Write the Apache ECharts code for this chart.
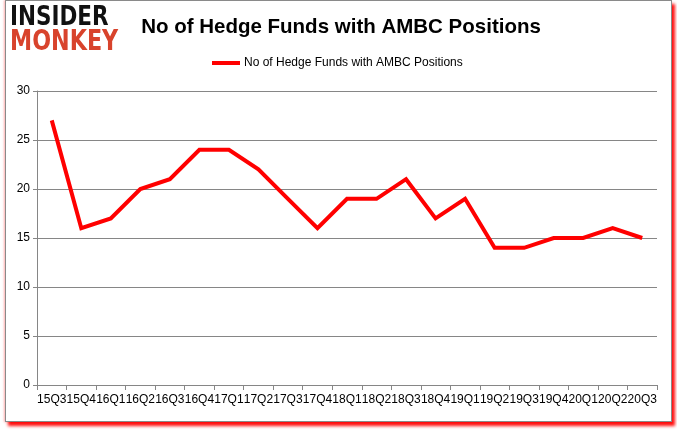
<!DOCTYPE html>
<html>
<head>
<meta charset="utf-8">
<script src="https://cdn.jsdelivr.net/npm/echarts@6/dist/echarts.min.js"></script>
<style>
  html, body { margin: 0; padding: 0; background: #ffffff; }
  #frame { position: absolute; left: 5px; top: 0px; width: 665px; height: 420px;
           border: 1px solid #8a8a8a; background: #ffffff;
           box-shadow: 3px 4px 3px rgba(255,0,0,0.95), -1px 0 2px rgba(255,120,120,0.6); }
  #chart { position: absolute; left: 0; top: 0; width: 677px; height: 431px; }
</style>
</head>
<body>
<div id="frame"></div>
<div id="chart"></div>
<script>
const titleText = 'No of Hedge Funds with AMBC Positions';
const seriesName = 'No of Hedge Funds with AMBC Positions';
const categories = ['15Q3','15Q4','16Q1','16Q2','16Q3','16Q4','17Q1','17Q2','17Q3','17Q4',
                    '18Q1','18Q2','18Q3','18Q4','19Q1','19Q2','19Q3','19Q4','20Q1','20Q2','20Q3'];
const values = [27, 16, 17, 20, 21, 24, 24, 22, 19, 16, 19, 19, 21, 17, 19, 14, 14, 15, 15, 16, 15];
const yTicks = { min: 0, max: 30, interval: 5 };

const chart = echarts.init(document.getElementById('chart'), null, { renderer: 'canvas' });
const font = 'Liberation Sans';
chart.setOption({
  backgroundColor: 'transparent',
  animation: false,
  title: {
    text: titleText,
    left: 336, top: 12, textAlign: 'center',
    textStyle: { fontFamily: font, fontWeight: 'bold', fontSize: 20.5, color: '#000000' }
  },
  legend: {
    data: [seriesName],
    left: 207, top: 52,
    itemWidth: 28, itemHeight: 4, itemGap: 4,
    icon: 'rect',
    textStyle: { fontFamily: font, fontSize: 12, color: '#000000', padding: [0,0,0,-1] }
  },
  graphic: [
    { type: 'text', left: 10, top: 5, scaleX: 0.86, scaleY: 1.05,
      style: { text: 'INSIDER', font: '900 25px "DejaVu Sans"', fill: '#111111' } },
    { type: 'text', left: 10, top: 29, scaleX: 0.89, scaleY: 1.1,
      style: { text: 'MONKEY', font: '900 25px "DejaVu Sans"', fill: '#d8432c' } }
  ],
  grid: { left: 37, right: 20, top: 91, bottom: 46, containLabel: false },
  xAxis: {
    type: 'category',
    data: categories,
    boundaryGap: true,
    axisLine: { lineStyle: { color: '#868686', width: 1 } },
    axisTick: { show: true, length: 5, interval: 0, lineStyle: { color: '#868686' } },
    axisLabel: { interval: 0, fontFamily: font, fontSize: 12, color: '#000000', margin: 9 }
  },
  yAxis: {
    type: 'value',
    min: yTicks.min, max: yTicks.max, interval: yTicks.interval,
    axisLine: { show: true, lineStyle: { color: '#868686', width: 1 } },
    axisTick: { show: true, length: 4, lineStyle: { color: '#868686' } },
    splitLine: { lineStyle: { color: '#868686', width: 1 } },
    axisLabel: { fontFamily: font, fontSize: 12, color: '#000000', margin: 7 }
  },
  series: [{
    name: seriesName,
    type: 'line',
    data: values,
    symbol: 'none',
    lineStyle: { color: '#ff0000', width: 4, join: 'miter' },
    itemStyle: { color: '#ff0000' }
  }]
});
</script>
</body>
</html>
